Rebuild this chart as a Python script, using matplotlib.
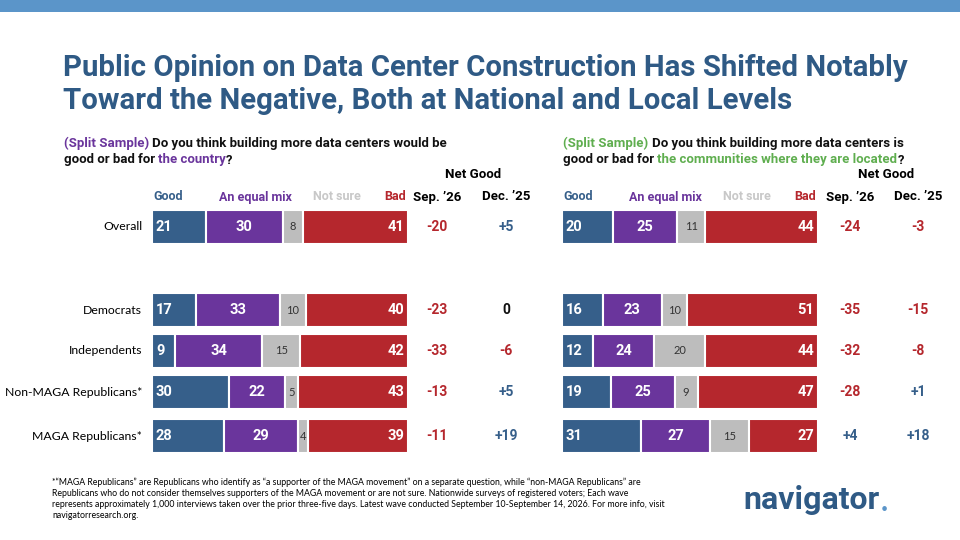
import matplotlib
matplotlib.use("Agg")
import matplotlib.pyplot as plt

groups = ["Overall", "Democrats", "Independents", "Non-MAGA Republicans*", "MAGA Republicans*"]
country_good = [21, 17, 9, 30, 28]
country_mix = [30, 33, 34, 22, 29]
country_ns = [8, 10, 15, 5, 4]
country_bad = [41, 40, 42, 43, 39]
country_sep = [-20, -23, -33, -13, -11]
country_dec = [5, 0, -6, 5, 19]
comm_good = [20, 16, 12, 19, 31]
comm_mix = [25, 23, 24, 25, 27]
comm_ns = [11, 10, 20, 9, 15]
comm_bad = [44, 51, 44, 47, 27]
comm_sep = [-24, -35, -32, -28, 4]
comm_dec = [-3, -15, -8, 1, 18]

C_GOOD, C_MIX, C_NS, C_BAD = "#365f8a", "#6a359c", "#bdbdbd", "#b5272d"
C_TITLE = "#2f5a85"
FONT = "Lato"
BF = "Roboto"

fig = plt.figure(figsize=(9.6, 5.4), dpi=100)
ax = fig.add_axes([0, 0, 1, 1])
ax.set_xlim(0, 960)
ax.set_ylim(540, 0)
ax.axis("off")

ax.barh(6, 960, height=12, left=0, color="#5b95c9")
ax.text(63, 68, "Public Opinion on Data Center Construction Has Shifted Notably", fontsize=21.2,
        fontweight="bold", color=C_TITLE, family=BF, va="center")
ax.text(63, 101, "Toward the Negative, Both at National and Local Levels", fontsize=21.2,
        fontweight="bold", color=C_TITLE, family=BF, va="center")

ys = [227, 310, 351, 392, 436]
scale = 2.56
H = 34

def fmt(v):
    return "0" if v == 0 else ("%+d" % v)

def ncol(v):
    return "#111111" if v == 0 else (C_BAD if v < 0 else C_GOOD)

def panel(x0, good, mix, ns, bad, sep, dec, xs, xd):
    for y, g, m, n, b in zip(ys, good, mix, ns, bad):
        lefts = [x0, x0 + g * scale, x0 + (g + m) * scale, x0 + (g + m + n) * scale]
        vals = [g, m, n, b]
        cols = [C_GOOD, C_MIX, C_NS, C_BAD]
        ax.barh([y] * 4, [v * scale for v in vals], left=lefts, height=H, color=cols,
                edgecolor="white", linewidth=1.5)
        ax.text(lefts[0] + 4, y, str(g), color="white", fontsize=10.5, va="center", family=BF, fontweight="bold")
        ax.text(lefts[1] + m * scale / 2, y, str(m), color="white", fontsize=10.5, va="center", ha="center", family=BF, fontweight="bold")
        ax.text(lefts[2] + n * scale / 2, y, str(n), color="#333333", fontsize=8, va="center", ha="center", family=FONT)
        ax.text(lefts[3] + b * scale - 4, y, str(b), color="white", fontsize=10.5, va="center", ha="right", family=BF, fontweight="bold")
    hy = 197
    ax.text(x0 + 1, hy, "Good", color=C_GOOD, fontsize=9, va="center", family=BF, fontweight="bold")
    ax.text(x0 + 103, hy, "An equal mix", color=C_MIX, fontsize=9, va="center", ha="center", family=BF, fontweight="bold")
    ax.text(x0 + 185, hy, "Not sure", color="#c8c8c8", fontsize=9, va="center", ha="center", family=BF, fontweight="bold")
    ax.text(x0 + 100 * scale - 2, hy, "Bad", color=C_BAD, fontsize=9, va="center", ha="right", family=BF, fontweight="bold")
    ax.text((xs + xd) / 2 + 2, 175, "Net Good", fontsize=9.5, ha="center", va="center", family=BF, fontweight="bold")
    ax.text(xs, hy, "Sep. \u201926", fontsize=9.5, ha="center", va="center", family=BF, fontweight="bold")
    ax.text(xd, hy, "Dec. \u201925", fontsize=9.5, ha="center", va="center", family=BF, fontweight="bold")
    for y, s, d in zip(ys, sep, dec):
        ax.text(xs, y, fmt(s), color=ncol(s), fontsize=10, ha="center", va="center", family=BF, fontweight="bold")
        ax.text(xd, y, fmt(d), color=ncol(d), fontsize=10, ha="center", va="center", family=BF, fontweight="bold")

panel(152, country_good, country_mix, country_ns, country_bad, country_sep, country_dec, 437, 506)
panel(562, comm_good, comm_mix, comm_ns, comm_bad, comm_sep, comm_dec, 850, 918)

for y, gname in zip(ys, groups):
    ax.text(142, y, gname, ha="right", va="center", fontsize=8.8, family=FONT)

def multi(x, y, parts):
    t = None
    for s, c in parts:
        if t is None:
            t = ax.text(x, y, s, color=c, fontsize=9.5, fontweight="bold", family=BF, va="center")
        else:
            t = ax.annotate(s, xycoords=t, xy=(1, 0), va="bottom", color=c, fontsize=9.5,
                            fontweight="bold", family=BF)
PUR = "#6a359c"; GRN = "#5fae4f"; BLK = "#111111"
multi(64, 143, [("(Split Sample) ", PUR), ("Do you think building more data centers would be", BLK)])
multi(64, 160, [("good or bad for ", BLK), ("the country", PUR), ("?", BLK)])
multi(563, 143, [("(Split Sample) ", GRN), ("Do you think building more data centers is", BLK)])
multi(563, 160, [("good or bad for ", BLK), ("the communities where they are located", GRN), ("?", BLK)])

foot = ("*\u201cMAGA Republicans\u201d are Republicans who identify as \u201ca supporter of the MAGA movement\u201d on a separate question, while \u201cnon-MAGA Republicans\u201d are\n"
        "Republicans who do not consider themselves supporters of the MAGA movement or are not sure. Nationwide surveys of registered voters; Each wave\n"
        "represents approximately 1,000 interviews taken over the prior three-five days. Latest wave conducted September 10-September 14, 2026. For more info, visit\n"
        "navigatorresearch.org.")
ax.text(52, 478, foot, fontsize=6.3, va="top", family=FONT, linespacing=1.25)
nav = ax.text(743, 500, "navigator", fontsize=23, fontweight="bold", color=C_TITLE, va="center", family=BF)
ax.annotate("\u2022", xycoords=nav, xy=(1, 0), xytext=(1, 0), textcoords="offset points",
            va="bottom", fontsize=9, color="#5b95c9", family=FONT)

fig.savefig("out.png", dpi=100)
